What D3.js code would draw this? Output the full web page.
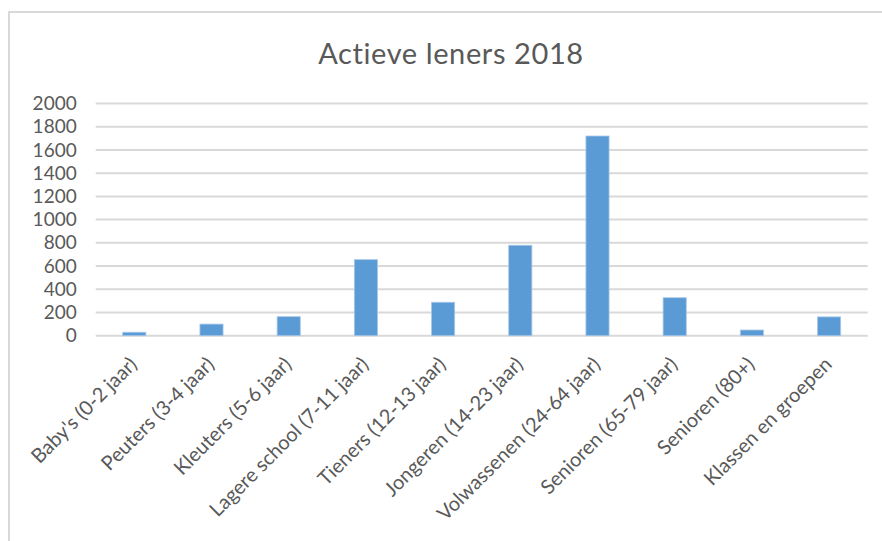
<!DOCTYPE html>
<html>
<head>
<meta charset="utf-8">
<script src="https://cdn.jsdelivr.net/npm/d3@7"></script>
<style>
  html, body { margin: 0; padding: 0; background: #fff; }
  svg { display: block; }
</style>
</head>
<body>
<div id="chart"></div>
<script>
// gegevens
const categories = [
    "Baby's (0-2 jaar)", "Peuters (3-4 jaar)", "Kleuters (5-6 jaar)",
    "Lagere school (7-11 jaar)", "Tieners (12-13 jaar)", "Jongeren (14-23 jaar)",
    "Volwassenen (24-64 jaar)", "Senioren (65-79 jaar)", "Senioren (80+)",
    "Klassen en groepen"
];
const values = [30, 100, 164, 655, 288, 779, 1720, 327, 49, 162];
const yTicks = [0, 200, 400, 600, 800, 1000, 1200, 1400, 1600, 1800, 2000];
const title = "Actieve leners 2018";

const width = 882, height = 541;
const margin = { top: 103.5, right: 14.3, bottom: 205.3, left: 95.7 };
const textColor = "#595959";
const font = "Lato, 'Open Sans', sans-serif";

const svg = d3.select("#chart")
    .append("svg")
    .attr("width", width)
    .attr("height", height);

// kader van de grafiek
svg.append("path")
    .attr("d", `M9,${height} V12 H${width}`)
    .attr("fill", "none")
    .attr("stroke", "#d9d9d9")
    .attr("stroke-width", 2);

svg.append("text")
    .attr("x", 451)
    .attr("y", 64)
    .attr("text-anchor", "middle")
    .attr("fill", textColor)
    .style("font-family", font)
    .style("font-size", "29px")
    .style("letter-spacing", "0.6px")
    .text(title);

const x = d3.scaleBand()
    .domain(categories)
    .range([margin.left, width - margin.right])
    .paddingInner(0.7)
    .paddingOuter(0.35);

const y = d3.scaleLinear()
    .domain([0, 2000])
    .range([height - margin.bottom, margin.top]);

// rasterlijnen
svg.append("g")
    .selectAll("line")
    .data(yTicks)
    .join("line")
    .attr("x1", margin.left)
    .attr("x2", width - margin.right)
    .attr("y1", d => y(d))
    .attr("y2", d => y(d))
    .attr("stroke", "#d9d9d9")
    .attr("stroke-width", 2);

// y-as
const yAxis = svg.append("g")
    .attr("transform", `translate(${margin.left - 19},0)`)
    .call(d3.axisLeft(y).tickValues(yTicks).tickFormat(d3.format("d")).tickSize(0).tickPadding(0));
yAxis.select(".domain").remove();
yAxis.selectAll("text")
    .attr("fill", textColor)
    .style("font-family", font)
    .style("font-size", "19px");

// staven
svg.append("g")
    .selectAll("rect")
    .data(values)
    .join("rect")
    .attr("x", (d, i) => x(categories[i]))
    .attr("y", d => y(d))
    .attr("width", x.bandwidth())
    .attr("height", d => y(0) - y(d))
    .attr("fill", "#5b9bd5")
    .attr("stroke", "#a9c8e8")
    .attr("stroke-width", 0.8);

// x-as labels
const xAxis = svg.append("g")
    .attr("transform", `translate(0,${y(0)})`)
    .call(d3.axisBottom(x).tickSize(0).tickPadding(0));
xAxis.select(".domain").remove();
xAxis.selectAll("text")
    .attr("fill", textColor)
    .style("font-family", font)
    .style("font-size", "20px")
    .attr("text-anchor", "end")
    .attr("dy", 0)
    .attr("y", 0)
    .attr("transform", "translate(4,30) rotate(-45)");
</script>
</body>
</html>
